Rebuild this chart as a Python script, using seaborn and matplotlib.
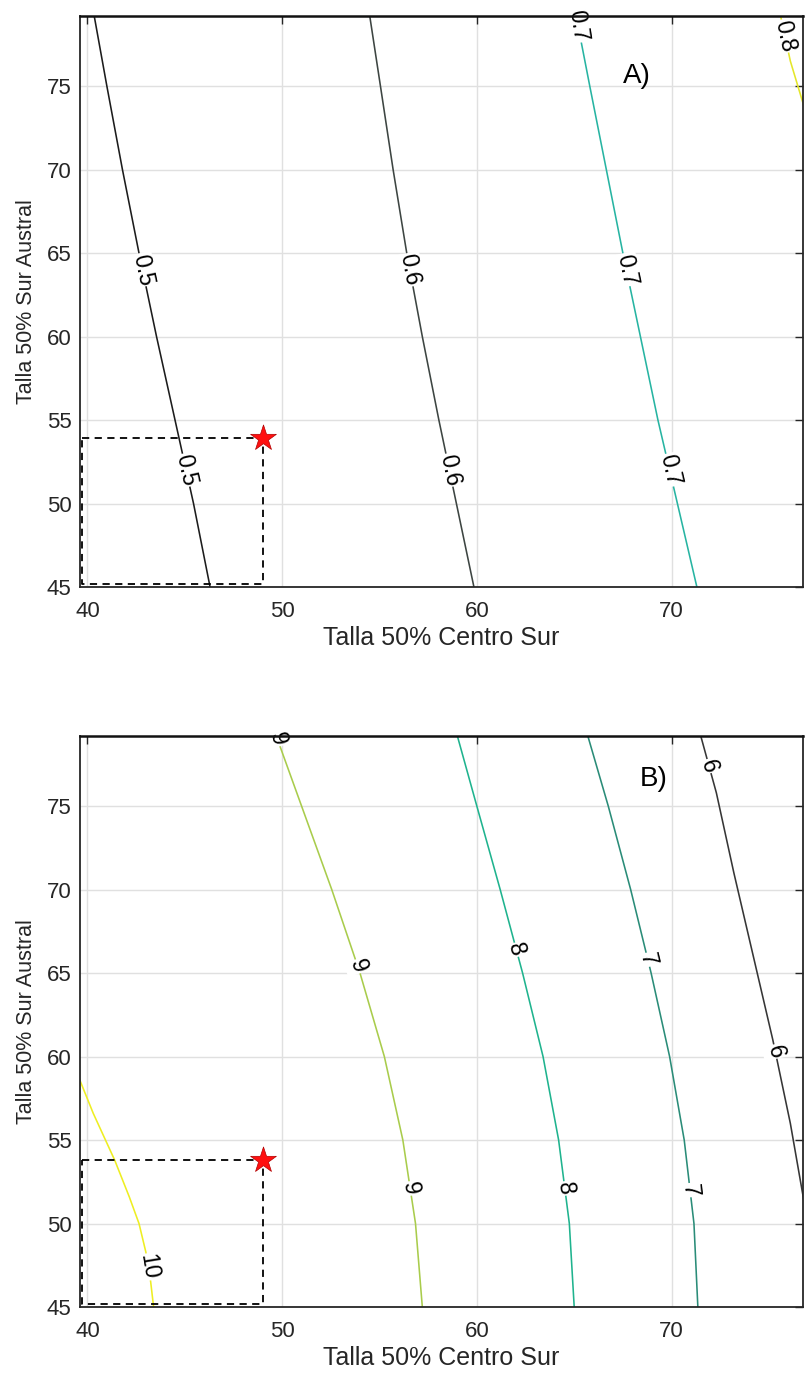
import numpy as np
import matplotlib
matplotlib.use("Agg")
import matplotlib.pyplot as plt
import seaborn as sns

# ------------------------------------------------------------
# datos (curvas de nivel, puntos a lo largo de cada curva)
# x = Talla 50% Centro Sur, y = Talla 50% Sur Austral
# ------------------------------------------------------------
x_ticks = [40, 50, 60, 70]
y_ticks = [45, 50, 55, 60, 65, 70, 75]

# panel A
a_05_x = [40.35, 41.0, 41.8, 42.65, 43.55, 44.5, 45.45, 46.3]
a_05_y = [79.2, 75.0, 70.0, 65.0, 60.0, 55.0, 50.0, 45.0]
a_06_x = [54.5, 55.05, 55.7, 56.4, 57.2, 58.05, 58.95, 59.85]
a_06_y = [79.2, 75.0, 70.0, 65.0, 60.0, 55.0, 50.0, 45.0]
a_07_x = [65.1, 65.8, 66.65, 67.5, 68.4, 69.3, 70.3, 71.3]
a_07_y = [79.2, 75.0, 70.0, 65.0, 60.0, 55.0, 50.0, 45.0]
a_08_x = [75.6, 76.1, 76.9, 77.3]
a_08_y = [79.2, 76.5, 73.4, 72.0]

# panel B
b_10_x = [39.4, 40.3, 41.4, 42.15, 42.65, 43.0, 43.25, 43.4]
b_10_y = [59.2, 56.6, 53.8, 51.6, 50.0, 48.3, 46.5, 45.0]
b_9_x = [49.7, 51.0, 52.55, 54.0, 55.25, 56.2, 56.85, 57.2]
b_9_y = [79.2, 75.0, 70.0, 65.0, 60.0, 55.0, 50.0, 45.0]
b_8_x = [59.0, 60.0, 61.2, 62.35, 63.4, 64.2, 64.75, 65.0]
b_8_y = [79.2, 75.0, 70.0, 65.0, 60.0, 55.0, 50.0, 45.0]
b_7_x = [65.7, 66.75, 67.9, 68.95, 69.9, 70.65, 71.15, 71.35]
b_7_y = [79.2, 75.0, 70.0, 65.0, 60.0, 55.0, 50.0, 45.0]
b_6_x = [71.5, 72.3, 73.2, 74.2, 75.2, 76.1, 76.85, 77.4]
b_6_y = [79.2, 75.8, 71.0, 66.0, 61.0, 56.0, 51.0, 46.0]

# punto actual (estrella)
star_a = (49.0, 53.9)
star_b = (49.0, 53.8)

# curvas: (etiqueta, x, y, color, alturas de las etiquetas)
curves_a = [
    ("0.5", a_05_x, a_05_y, "#1c1c1c", [64.0, 52.0]),
    ("0.6", a_06_x, a_06_y, "#3d4542", [64.0, 52.0]),
    ("0.7", a_07_x, a_07_y, "#27b4a2", [78.6, 64.0, 52.0]),
    ("0.8", a_08_x, a_08_y, "#e4e62a", [78.0]),
]
curves_b = [
    ("10", b_10_x, b_10_y, "#eeee22", [47.4]),
    ("9", b_9_x, b_9_y, "#a9cc4c", [79.0, 65.4, 52.1]),
    ("8", b_8_x, b_8_y, "#1fb38e", [66.4, 52.1]),
    ("7", b_7_x, b_7_y, "#2a8c78", [65.8, 52.0]),
    ("6", b_6_x, b_6_y, "#363636", [77.4, 60.3]),
]

# ------------------------------------------------------------
sns.set_style("white")
plt.rcParams['font.family'] = ['Liberation Sans', 'DejaVu Sans']

fig = plt.figure(figsize=(8.05, 13.77), dpi=100)
ax_a = fig.add_axes([80 / 805, 790 / 1377, 723 / 805, 571 / 1377])
ax_b = fig.add_axes([80 / 805, 70 / 1377, 723 / 805, 571 / 1377])


def style_axis(ax):
    ax.set_xlim(39.62, 76.75)
    ax.set_ylim(45, 79.2)
    ax.set_xticks(x_ticks)
    ax.set_yticks(y_ticks)
    ax.grid(True, color="#e0e0e0", linewidth=1.0)
    ax.set_axisbelow(True)
    ax.tick_params(direction="in", length=6, width=1, top=True, right=True,
                   colors="#262626", labelsize=16)
    ax.tick_params(axis="x", pad=10)
    ax.tick_params(axis="y", pad=6)
    for s in ax.spines.values():
        s.set_visible(True)
        s.set_color("#262626")
        s.set_linewidth(1.3)
    ax.spines["top"].set_color("#111111")
    ax.spines["top"].set_linewidth(1.8)
    ax.set_xlabel("Talla 50% Centro Sur", fontsize=18, color="#262626", labelpad=3)
    ax.set_ylabel("Talla 50% Sur Austral", fontsize=15.5, color="#262626", labelpad=7)


def draw_panel(ax, curves, star, tag, tag_xy):
    style_axis(ax)
    for lab, xs, ys, col, label_ys in curves:
        sns.lineplot(x=xs, y=ys, sort=False, estimator=None, color=col,
                     linewidth=1.15, ax=ax, zorder=2)
    fig.canvas.draw()
    for lab, xs, ys, col, label_ys in curves:
        yy = np.array(ys)[::-1]
        xx = np.array(xs)[::-1]
        for y0 in label_ys:
            x0 = np.interp(y0, yy, xx)
            p1 = ax.transData.transform((np.interp(y0 + 1, yy, xx), y0 + 1))
            p2 = ax.transData.transform((np.interp(y0 - 1, yy, xx), y0 - 1))
            ang = np.degrees(np.arctan2(p2[1] - p1[1], p2[0] - p1[0]))
            ax.text(x0, y0, lab, rotation=ang, rotation_mode="anchor",
                    ha="center", va="center", fontsize=16.5, color="black",
                    zorder=2.4,
                    bbox=dict(facecolor="white", edgecolor="none", pad=0.6))
    # rectangulo punteado hasta el punto actual
    ax.plot([39.7, star[0], star[0], 39.7, 39.7],
            [star[1], star[1], 45.15, 45.15, star[1]],
            linestyle=(0, (4, 3)), color="black", linewidth=1.3, zorder=3)
    sns.scatterplot(x=[star[0]], y=[star[1]], marker="*", s=380, color="#ff1010",
                    edgecolor="#b00000", linewidth=0.5, ax=ax, zorder=4)
    ax.text(tag_xy[0], tag_xy[1], tag, fontsize=20, color="black",
            ha="center", va="center")


draw_panel(ax_a, curves_a, star_a, "A)", (68.2, 75.6))
draw_panel(ax_b, curves_b, star_b, "B)", (69.1, 76.6))

fig.savefig("out.png", dpi=100)
